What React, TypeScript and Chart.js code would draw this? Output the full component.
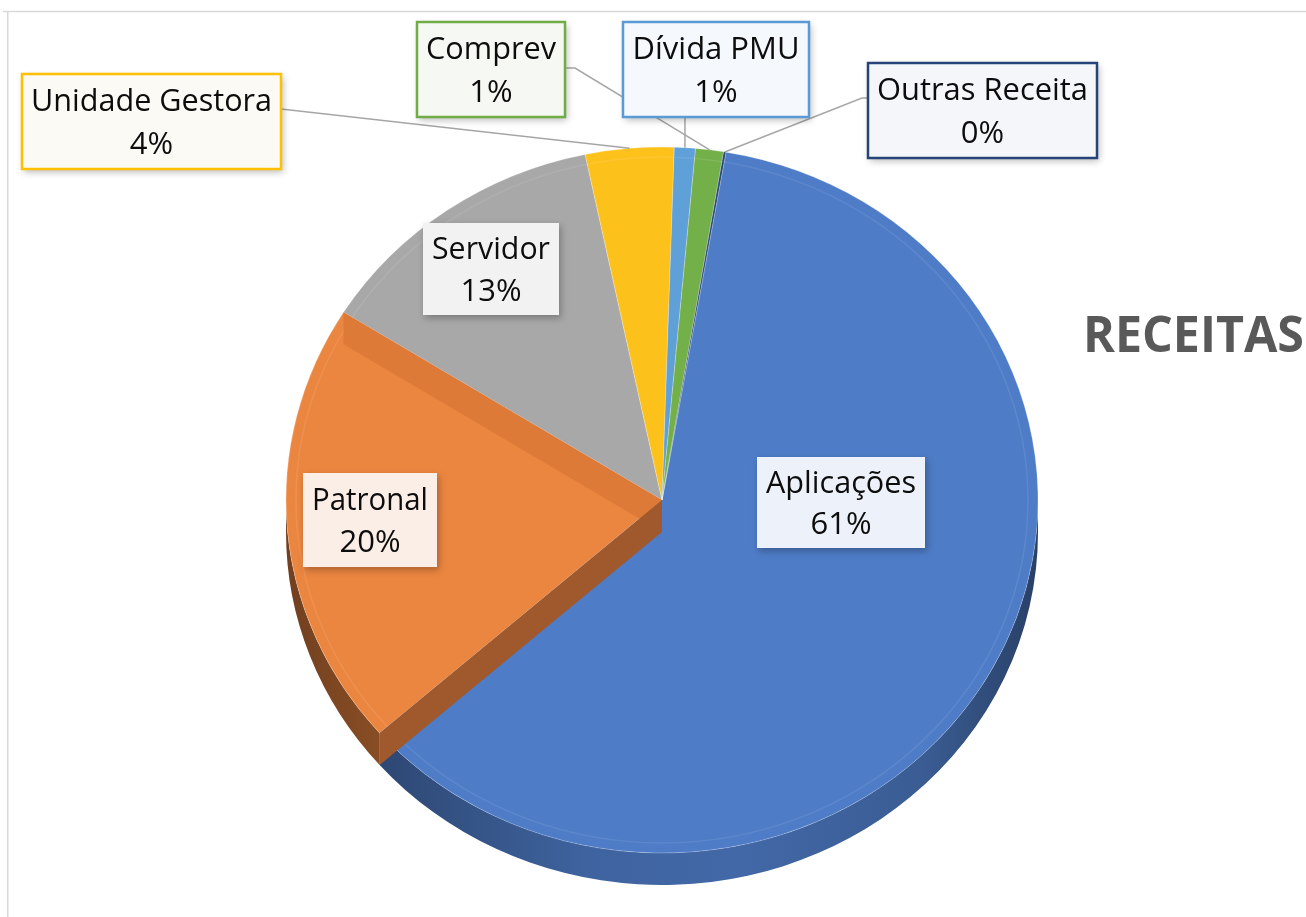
import React, { useEffect, useRef } from 'react';
import { Chart, registerables } from 'chart.js';

Chart.register(...registerables);

// ---- data ----
const categories = ['Aplicações', 'Patronal', 'Servidor', 'Unidade Gestora', 'Dívida PMU', 'Comprev', 'Outras Receita'];
const shares = [60.8, 20.4, 12.8, 3.8, 0.9, 1.2, 0.1];
const sliceColors = ['#4E7CC7', '#EB8640', '#A8A8A8', '#FDC11C', '#5FA0D8', '#74B04A', '#264478'];
const chartTitle = 'RECEITAS';

// ---- layout / style (not data) ----
const SY = 353 / 376; // vertical squash of the tilted pie
const DEPTH = 32; // extrusion depth in px
const FONT = '"Open Sans", "Noto Sans", sans-serif';

type Box = { x: number; y: number; w: number; h: number; fill: string; border: string | null; leader: 'none' | 'vertical' | number[][] };
const labelBoxes: Box[] = [
  { x: 757, y: 457, w: 168, h: 91, fill: '#EDF1F9', border: null, leader: 'none' },
  { x: 303, y: 473, w: 134, h: 94, fill: '#FBEEE7', border: null, leader: 'none' },
  { x: 423, y: 223, w: 136, h: 92, fill: '#F2F2F2', border: null, leader: 'none' },
  { x: 22, y: 74, w: 259, h: 95, fill: '#FBFAF5', border: '#FFC000', leader: [[281, 109]] },
  { x: 623, y: 22, w: 186, h: 95, fill: '#F5F8FC', border: '#5B9BD5', leader: 'vertical' },
  { x: 417, y: 22, w: 148, h: 95, fill: '#F6F8F4', border: '#70AD47', leader: [[565, 68], [575, 68]] },
  { x: 868, y: 63, w: 229, h: 95, fill: '#F4F6F9', border: '#264478', leader: [[868, 98], [862, 98]] },
];

function shade(hex: string, f: number) {
  const n = parseInt(hex.slice(1), 16);
  const r = Math.round(((n >> 16) & 255) * f);
  const g = Math.round(((n >> 8) & 255) * f);
  const b = Math.round((n & 255) * f);
  return `rgb(${r},${g},${b})`;
}

const pie3d = {
  id: 'pie3d',
  beforeDraw(chart: any) {
    const ctx = chart.ctx;
    ctx.save();
    ctx.fillStyle = '#ffffff';
    ctx.fillRect(0, 0, chart.width, chart.height);
    ctx.strokeStyle = '#D9D9D9';
    ctx.lineWidth = 1.5;
    ctx.beginPath();
    ctx.moveTo(3, 11.5);
    ctx.lineTo(chart.width + 5, 11.5);
    ctx.moveTo(7.75, 11.5);
    ctx.lineTo(7.75, chart.height + 5);
    ctx.stroke();
    ctx.restore();
  },
  beforeDatasetsDraw(chart: any) {
    const ctx = chart.ctx;
    const arcs = chart.getDatasetMeta(0).data;
    if (!arcs.length) return;
    const cx = arcs[0].x, cy = arcs[0].y, R = arcs[0].outerRadius;
    const ry = R * SY;
    ctx.save();
    arcs.forEach((arc: any, i: number) => {
      const s = arc.startAngle, e = arc.endAngle;
      for (let k = -2; k <= 2; k++) {
        const lo = Math.max(s, 2 * Math.PI * k);
        const hi = Math.min(e, 2 * Math.PI * k + Math.PI);
        if (hi > lo) {
          const c = sliceColors[i];
          const g = ctx.createLinearGradient(cx - R, 0, cx + R, 0);
          g.addColorStop(0, shade(c, 0.48));
          g.addColorStop(0.15, shade(c, 0.6));
          g.addColorStop(0.4, shade(c, 0.8));
          g.addColorStop(0.6, shade(c, 0.84));
          g.addColorStop(0.85, shade(c, 0.74));
          g.addColorStop(1, shade(c, 0.52));
          ctx.beginPath();
          ctx.ellipse(cx, cy, R, ry, 0, lo, hi, false);
          ctx.ellipse(cx, cy + DEPTH, R, ry, 0, hi, lo, true);
          ctx.closePath();
          ctx.fillStyle = g;
          ctx.fill();
        }
      }
    });
    ctx.restore();
    ctx.save();
    ctx.translate(cx, cy);
    ctx.scale(1, SY);
    ctx.translate(-cx, -cy);
  },
  afterDatasetsDraw(chart: any) {
    const ctx = chart.ctx;
    const arcs = chart.getDatasetMeta(0).data;
    if (!arcs.length) return;
    ctx.restore();
    const cx = arcs[0].x, cy = arcs[0].y, R = arcs[0].outerRadius;
    const ry = R * SY;
    const pt = (a: number) => [cx + R * Math.cos(a), cy + ry * Math.sin(a)];

    // subtle bevel rim on the top face
    ctx.save();
    ctx.strokeStyle = 'rgba(255,255,255,0.09)';
    ctx.lineWidth = 1.5;
    ctx.beginPath();
    ctx.ellipse(cx, cy, R - 10, ry - 10, 0, 0, Math.PI * 2);
    ctx.stroke();
    ctx.restore();

    // radial faces of the Patronal slice (as Excel renders them)
    const orange = arcs[1];
    const face = (a: number, color: string) => {
      const [ex, ey] = pt(a);
      ctx.beginPath();
      ctx.moveTo(cx, cy);
      ctx.lineTo(ex, ey);
      ctx.lineTo(ex, ey + DEPTH);
      ctx.lineTo(cx, cy + DEPTH);
      ctx.closePath();
      ctx.fillStyle = color;
      ctx.fill();
    };
    ctx.save();
    face(orange.endAngle, '#DE7A37');
    face(orange.startAngle, '#A0592C');
    ctx.restore();

    // leader lines
    ctx.save();
    ctx.strokeStyle = '#A6A6A6';
    ctx.lineWidth = 1.5;
    arcs.forEach((arc: any, i: number) => {
      const b = labelBoxes[i];
      if (b.leader === 'none') return;
      const mid = (arc.startAngle + arc.endAngle) / 2;
      const [ax, ay] = pt(mid);
      ctx.beginPath();
      if (b.leader === 'vertical') {
        ctx.moveTo(ax, b.y + b.h);
        ctx.lineTo(ax, ay);
      } else {
        const pts = b.leader as number[][];
        ctx.moveTo(pts[0][0], pts[0][1]);
        for (let j = 1; j < pts.length; j++) ctx.lineTo(pts[j][0], pts[j][1]);
        ctx.lineTo(ax, ay);
      }
      ctx.stroke();
    });
    ctx.restore();

    // label boxes
    const total = shares.reduce((a, b) => a + b, 0);
    labelBoxes.forEach((b, i) => {
      ctx.save();
      ctx.shadowColor = 'rgba(0,0,0,0.28)';
      ctx.shadowBlur = 7;
      ctx.shadowOffsetX = 2;
      ctx.shadowOffsetY = 3;
      ctx.fillStyle = b.fill;
      ctx.fillRect(b.x, b.y, b.w, b.h);
      ctx.restore();
      ctx.save();
      if (b.border) {
        ctx.strokeStyle = b.border;
        ctx.lineWidth = 2.5;
        ctx.strokeRect(b.x, b.y, b.w, b.h);
      }
      ctx.fillStyle = '#0D0D0D';
      ctx.font = `31px ${FONT}`;
      ctx.textAlign = 'center';
      ctx.textBaseline = 'middle';
      const tx = b.x + b.w / 2;
      ctx.fillText(categories[i], tx, b.y + b.h * 0.3, b.w - 18);
      ctx.fillText(Math.round((shares[i] / total) * 100) + '%', tx, b.y + b.h * 0.75);
      ctx.restore();
    });

    // title
    ctx.save();
    ctx.fillStyle = '#595959';
    ctx.font = `bold 50px ${FONT}`;
    ctx.textAlign = 'left';
    ctx.textBaseline = 'middle';
    ctx.fillText(chartTitle, 1083, 338, 221);
    ctx.restore();
  },
};

export default function App() {
  const ref = useRef<HTMLCanvasElement | null>(null);
  useEffect(() => {
    if (!ref.current) return;
    const chart = new Chart(ref.current, {
      type: 'pie',
      data: {
        labels: categories,
        datasets: [
          {
            data: shares,
            backgroundColor: sliceColors,
            borderColor: 'rgba(255,255,255,0.25)',
            borderWidth: 1,
            radius: 376,
            clip: false as any,
          } as any,
        ],
      },
      options: {
        responsive: false,
        animation: false,
        rotation: 9.8,
        layout: { padding: { left: 286, right: 268, top: 124, bottom: 41 } },
        plugins: { legend: { display: false }, tooltip: { enabled: false }, title: { display: false } },
      },
      plugins: [pie3d],
    });
    return () => chart.destroy();
  }, []);
  return (
    <div style={{ position: 'fixed', left: 0, top: 0, width: 1306, height: 917, background: '#fff' }}>
      <canvas ref={ref} width={1306} height={917} style={{ display: 'block', width: 1306, height: 917 }} />
    </div>
  );
}
